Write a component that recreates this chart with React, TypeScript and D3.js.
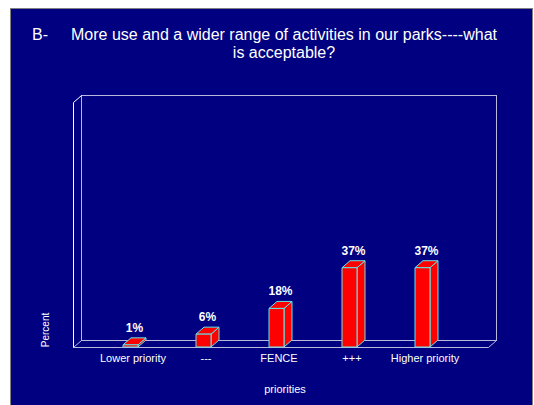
import React from 'react';
import * as d3 from 'd3';

const categories = ['Lower priority', '---', 'FENCE', '+++', 'Higher priority'];
const percents = [1, 6, 18, 37, 37];
const titleLines = ['More use and a wider range of activities in our parks----what', 'is acceptable?'];

const W = 534;
const H = 405;
const font = '"Liberation Sans", Arial, sans-serif';

// 3d depth offset
const DX = 8;
const DY = -7;

export default function App() {
  // plot frame (front face)
  const left = 73;
  const right = 488;
  const top = 102;
  const base = 347;

  const x = d3.scaleBand<string>().domain(categories).range([94, 459]);
  const y = d3.scaleLinear().domain([0, 40]).range([base, 261.3]);
  const barW = 15;

  const frontLine = '#ffffff';
  const backLine = '#b8b8dc';

  return (
    <svg width={W} height={H} style={{ position: 'absolute', left: 0, top: 0 }} fontFamily={font}>
      <rect x={0} y={0} width={W} height={H} fill="#ffffff" />
      <rect x={10.5} y={8.5} width={522} height={400} fill="#000080" stroke="#808080" />

      {/* title */}
      <g fill="#ffffff" fontSize={16}>
        <text x={32} y={39.5}>B-</text>
        <text x={284} y={39.5} textAnchor="middle">{titleLines[0]}</text>
        <text x={284} y={58} textAnchor="middle">{titleLines[1]}</text>
      </g>

      {/* walls */}
      <g fill="none" strokeWidth={1}>
        <rect x={left + DX + 0.5} y={top + DY + 0.5} width={right - left} height={base - top} stroke={backLine} />
        <line x1={left + DX + 0.5} y1={base + DY + 0.5} x2={left + 0.5} y2={base + 0.5} stroke={backLine} />
        <line x1={right + DX + 0.5} y1={base + DY + 0.5} x2={right + 0.5} y2={base + 0.5} stroke={backLine} />
        <line x1={left + 0.5} y1={base + 0.5} x2={right + 0.5} y2={base + 0.5} stroke={backLine} />
        <polyline
          points={`${left + 0.5},${base + 0.5} ${left + 0.5},${top + 0.5} ${left + DX + 0.5},${top + DY + 0.5}`}
          stroke={frontLine}
        />
      </g>

      {/* bars */}
      <g stroke="#66e6e6" strokeWidth={1} strokeLinejoin="round">
        {categories.map((c, i) => {
          const x0 = (x(c) ?? 0) + x.bandwidth() / 2 - barW / 2;
          const x1 = x0 + barW;
          const yt = y(percents[i]);
          return (
            <g key={c}>
              <path
                d={`M${x1},${base}L${x1 + DX},${base + DY}L${x1 + DX},${yt + DY}L${x1},${yt}Z`}
                fill="#ff0000"
              />
              <path
                d={`M${x0},${yt}L${x0 + DX},${yt + DY}L${x1 + DX},${yt + DY}L${x1},${yt}Z`}
                fill="#ff0000"
              />
              <rect x={x0} y={yt} width={barW} height={base - yt} fill="#ff0000" />
            </g>
          );
        })}
      </g>

      {/* value labels */}
      <g fill="#ffffff" fontSize={12} fontWeight="bold" textAnchor="middle">
        {categories.map((c, i) => (
          <text key={c} x={(x(c) ?? 0) + x.bandwidth() / 2 + DX / 2} y={y(percents[i]) + DY - 6}>
            {percents[i]}%
          </text>
        ))}
      </g>

      {/* category labels */}
      <g fill="#ffffff" fontSize={11} textAnchor="middle">
        {categories.map((c) => (
          <text key={c} x={(x(c) ?? 0) + x.bandwidth() / 2 + 2.5} y={361.5}>
            {c}
          </text>
        ))}
      </g>

      <text
        transform="translate(49,330) rotate(-90)"
        fill="#ffffff"
        fontSize={10}
        textAnchor="middle"
      >
        Percent
      </text>
      <text x={285} y={393} fill="#ffffff" fontSize={11} textAnchor="middle">
        priorities
      </text>
    </svg>
  );
}
